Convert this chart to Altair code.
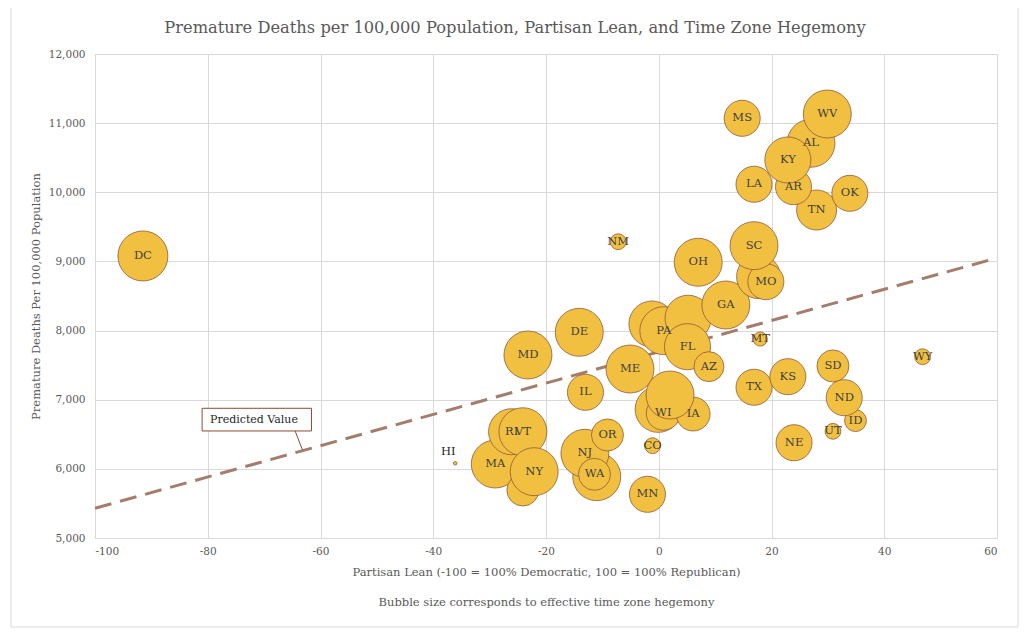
import altair as alt
import pandas as pd

# ---- data (drawing order) ----
states = ["DC", "HI", "MA", "RI", "VT", "CT", "NY", "NV", "NJ", "WA", "OR", "CO", "MN",
          "MI", "WI", "IA", "IL", "MD", "DE", "ME", "VA", "PA", "NC", "FL", "AZ", "GA",
          "OH", "NM", "IN", "MO", "SC", "MT", "TX", "KS", "NE", "UT", "ID", "SD", "ND",
          "WY", "TN", "OK", "LA", "AR", "AL", "KY", "MS", "WV", "NH"]
show_label = [1, 1, 1, 1, 1, 0, 1, 0, 1, 1, 1, 1, 1,
              0, 1, 1, 1, 1, 1, 1, 0, 1, 0, 1, 1, 1,
              1, 1, 0, 1, 1, 1, 1, 1, 1, 1, 1, 1, 1,
              1, 1, 1, 1, 1, 1, 1, 1, 1, 0]
lean = [-91.5, -36.1, -29.0, -26.1, -24.1, -24.1, -22.1, -11.0, -13.1, -11.4, -9.1, -1.1, -2.0,
        -0.1, 0.8, 6.1, -13.0, -23.2, -14.1, -5.1, -1.2, 0.9, 5.2, 5.1, 8.9, 11.9,
        7.0, -7.2, 17.7, 19.0, 16.9, 18.0, 16.9, 22.9, 24.0, 30.9, 34.9, 30.9, 32.9,
        46.8, 28.0, 33.9, 16.9, 23.9, 27.0, 22.9, 14.8, 29.9, 2.0]
deaths = [9079, 6080, 6070, 6537, 6537, 5694, 5959, 5887, 6225, 5921, 6490, 6335, 5632,
          6861, 6804, 6793, 7107, 7647, 7975, 7444, 8095, 7998, 8178, 7767, 7478, 8370,
          8988, 9285, 8779, 8707, 9228, 7878, 7180, 7333, 6378, 6543, 6697, 7488, 7029,
          7622, 9744, 9985, 10116, 10081, 10709, 10467, 11070, 11132, 7068]
hegemony = [1.00, 0.005, 0.92, 0.85, 0.92, 0.41, 0.92, 0.92, 0.92, 0.41, 0.41, 0.10, 0.52,
            0.85, 0.46, 0.46, 0.52, 0.92, 0.92, 0.92, 0.85, 0.92, 0.85, 0.85, 0.36, 0.92,
            0.92, 0.10, 0.77, 0.52, 0.92, 0.08, 0.52, 0.52, 0.52, 0.10, 0.19, 0.41, 0.52,
            0.10, 0.64, 0.52, 0.52, 0.52, 0.92, 0.85, 0.52, 0.92, 0.92]

trend_lean = [-100, 60]
trend_deaths = [5430, 9050]

callout_text = "Predicted Value"
callout_box_x = [-81.0, -61.6]
callout_box_y = [6876, 6548]
callout_leader_x = [-64.5, -63.2]
callout_leader_y = [6548, 6273]
callout_text_pos = [-79.6, 6712]

x_ticks = [-100, -80, -60, -40, -20, 0, 20, 40, 60]
y_ticks = [5000, 6000, 7000, 8000, 9000, 10000, 11000, 12000]

FONT = "DejaVu Serif"
GRID = "#d9d9d9"
TXT = "#595959"

df = pd.DataFrame({
    "state": states,
    "label": [s if f else "" for s, f in zip(states, show_label)],
    "lean": lean,
    "deaths": deaths,
    "hegemony": hegemony,
    "order": list(range(len(states))),
})

x_enc = alt.X("lean:Q",
              scale=alt.Scale(domain=[-100, 60], nice=False, zero=False),
              axis=alt.Axis(values=x_ticks, labelExpr="'' + datum.value",
                            title=["Partisan Lean (-100 = 100% Democratic, 100 = 100% Republican)",
                                   "Bubble size corresponds to effective time zone hegemony"]))
y_enc = alt.Y("deaths:Q",
              scale=alt.Scale(domain=[5000, 12000], nice=False, zero=False),
              axis=alt.Axis(values=y_ticks, format=",.0f",
                            title="Premature Deaths Per 100,000 Population"))

bubbles = alt.Chart(df).mark_circle(
    opacity=1, color="#F2C040", stroke="#8E5A3E", strokeWidth=0.8
).encode(
    x=x_enc, y=y_enc,
    size=alt.Size("hegemony:Q", scale=alt.Scale(domain=[0, 1], range=[0, 2500], zero=True), legend=None),
    order=alt.Order("order:Q"),
)

labels = alt.Chart(df[(df["label"] != "") & (df["state"] != "HI")]).mark_text(
    font=FONT, fontSize=11.5, color="#404040", align="center", baseline="middle"
).encode(x="lean:Q", y="deaths:Q", text="label:N")

hi_label = alt.Chart(df[df["state"] == "HI"]).mark_text(
    font=FONT, fontSize=11.5, color="#262626", align="center", baseline="middle", dx=-7, dy=-11
).encode(x="lean:Q", y="deaths:Q", text="label:N")

trend_df = pd.DataFrame({"lean": trend_lean, "deaths": trend_deaths})
trend = alt.Chart(trend_df).mark_line(
    color="#A47E6C", strokeWidth=3, strokeDash=[17, 9]
).encode(x="lean:Q", y="deaths:Q")

box_df = pd.DataFrame({"x": [callout_box_x[0]], "x2": [callout_box_x[1]],
                       "y": [callout_box_y[0]], "y2": [callout_box_y[1]]})
box = alt.Chart(box_df).mark_rect(fill="white", stroke="#8B4A36", strokeWidth=1).encode(
    x="x:Q", x2="x2:Q", y="y:Q", y2="y2:Q")

leader_df = pd.DataFrame({"x": [callout_leader_x[0]], "x2": [callout_leader_x[1]],
                          "y": [callout_leader_y[0]], "y2": [callout_leader_y[1]]})
leader = alt.Chart(leader_df).mark_rule(color="#8B4A36", strokeWidth=1).encode(
    x="x:Q", x2="x2:Q", y="y:Q", y2="y2:Q")

ctext_df = pd.DataFrame({"x": [callout_text_pos[0]], "y": [callout_text_pos[1]], "t": [callout_text]})
ctext = alt.Chart(ctext_df).mark_text(
    font=FONT, fontSize=11, color="#262626", align="left", baseline="middle"
).encode(x="x:Q", y="y:Q", text="t:N")

frame = alt.Chart(alt.Data(values=[{"a": 1}])).mark_rect(
    fill="transparent", stroke=GRID, strokeWidth=1
).encode(x=alt.value(-84), x2=alt.value(923), y=alt.value(-47), y2=alt.value(573))

chart = alt.layer(frame, trend, box, leader, ctext, bubbles, labels, hi_label).properties(
    width=902, height=484,
    title=alt.TitleParams("Premature Deaths per 100,000 Population, Partisan Lean, and Time Zone Hegemony",
                          font=FONT, fontSize=16.3, fontWeight="normal", color=TXT,
                          anchor="middle", frame="group", dx=-31, offset=-43,
                          baseline="alphabetic"),
    autosize=alt.AutoSizeParams(type="none"),
    padding={"left": 87, "top": 46, "right": 22, "bottom": 90},
).configure_view(stroke=GRID).configure_axis(
    domain=False, ticks=False, grid=True, gridColor=GRID, gridWidth=1,
    labelFont=FONT, labelFontSize=10.5, labelColor=TXT,
    titleFont=FONT, titleFontSize=11.5, titleFontWeight="normal", titleColor=TXT,
).configure_axisX(labelPadding=8, titlePadding=10, titleLineHeight=30
).configure_axisY(labelPadding=10, titlePadding=7)

chart.save("out.html", embed_options={"renderer": "svg", "actions": False})
